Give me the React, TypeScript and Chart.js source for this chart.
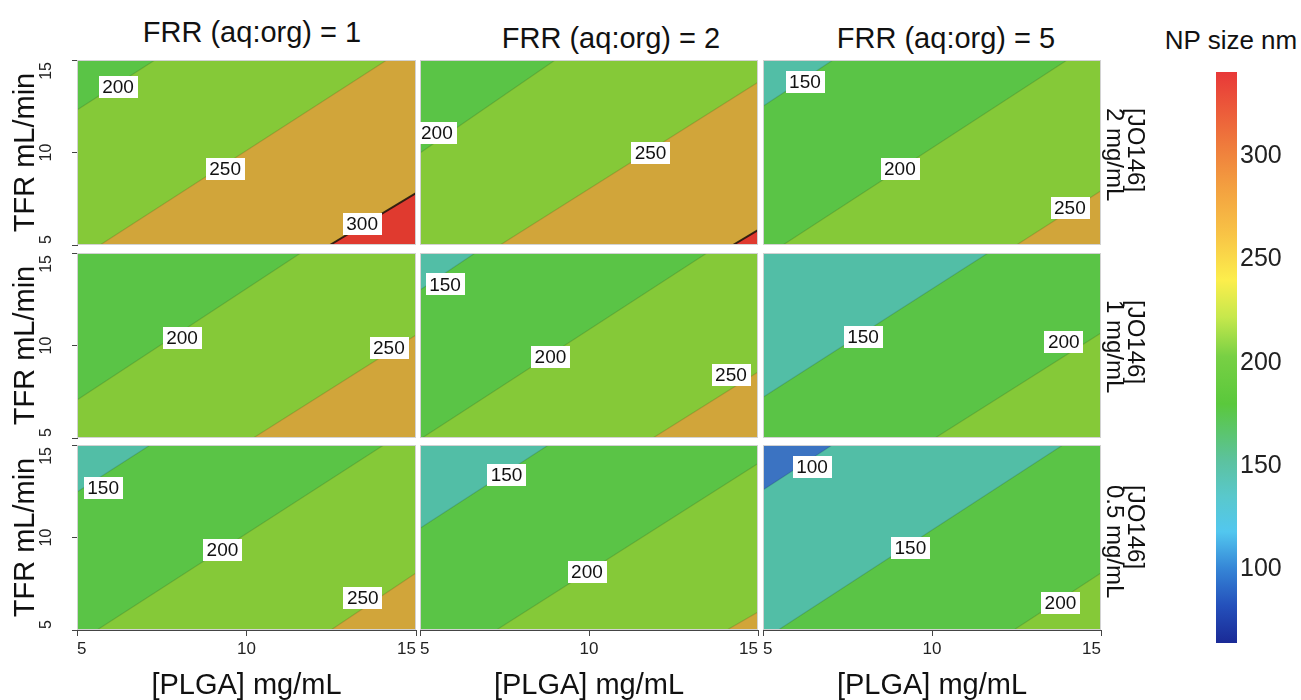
import React, { useEffect, useRef } from "react";
import { Chart, registerables } from "chart.js";

Chart.register(...registerables);

const FONT = "'Liberation Sans', Arial, Helvetica, sans-serif";

// ---------- labels ----------
const frrTitles = ["FRR (aq:org) = 1", "FRR (aq:org) = 2", "FRR (aq:org) = 5"];
const jo146Rows = ["2 mg/mL", "1 mg/mL", "0.5 mg/mL"];
const xTitle = "[PLGA] mg/mL";
const yTitle = "TFR mL/min";
const colorbarTitle = "NP size nm";

// ---------- axes ----------
const plgaRange = [5, 15];
const tfrRange = [5, 15];
const plgaTicks = [5, 10, 15];
const tfrTicks = [5, 10, 15];

// ---------- contour band colours (by lower bound of band) ----------
const bandLowerBounds = [50, 100, 150, 200, 250, 300];
const bandColors = ["#3b73c2", "#52bea6", "#5ac446", "#85c938", "#d1a53a", "#e03a2f"];

// ---------- colour bar ----------
const colorbarRange = [64, 341];
const colorbarTicks = [100, 150, 200, 250, 300];
const colorbarStops = [64, 82, 100, 118, 135, 152, 180, 203, 222, 240, 262, 285, 305, 341];
const colorbarColors = [
  "#1a2a96", "#2450bb", "#3585d6", "#52c7ef", "#59c8cc", "#5cc2a0", "#5ac83c",
  "#78d044", "#c6e84c", "#fcee4c", "#f8c446", "#f3a040", "#ef7c3c", "#e83838",
];

// ---------- panel data: contour lines (from -> to, data coords) and labels ----------
// Row 1: [JO146] 2 mg/mL
const p11Levels = [200, 250, 300];
const p11From = [[5, 12.3], [5.68, 5], [12.46, 5]];
const p11To = [[7.3, 15], [14.14, 15], [15, 7.8]];
const p11LabelValues = [200, 250, 300];
const p11LabelPos = [[6.21, 13.54], [9.37, 9.11], [13.41, 6.14]];

const p12Levels = [200, 250, 300];
const p12From = [[5, 9.97], [7.37, 5], [14.26, 5]];
const p12To = [[9.0, 15], [15, 13.8], [15, 5.8]];
const p12LabelValues = [200, 250];
const p12LabelPos = [[5.5, 11.05], [11.82, 9.97]];

const p13Levels = [150, 200, 250];
const p13From = [[5, 12.5], [5.59, 5], [12.5, 5]];
const p13To = [[7.07, 15], [14.0, 15], [15, 7.93]];
const p13LabelValues = [150, 200, 250];
const p13LabelPos = [[6.24, 13.8], [9.05, 9.13], [14.08, 7.0]];

// Row 2: [JO146] 1 mg/mL
const p21Levels = [200, 250];
const p21From = [[5, 7.05], [10.2, 5]];
const p21To = [[11.6, 15], [15, 10.57]];
const p21LabelValues = [200, 250];
const p21LabelPos = [[8.1, 10.4], [14.2, 9.86]];

const p22Levels = [150, 200, 250];
const p22From = [[5, 13.0], [5.06, 5], [11.89, 5]];
const p22To = [[6.63, 15], [13.49, 15], [15, 8.57]];
const p22LabelValues = [150, 200, 250];
const p22LabelPos = [[5.74, 13.3], [8.86, 9.38], [14.2, 8.4]];

const p23Levels = [150, 200];
const p23From = [[5, 7.2], [10.09, 5]];
const p23To = [[11.66, 15], [15, 10.68]];
const p23LabelValues = [150, 200];
const p23LabelPos = [[7.96, 10.46], [13.9, 10.2]];

// Row 3: [JO146] 0.5 mg/mL
const p31Levels = [150, 200, 250];
const p31From = [[5, 12.46], [5.59, 5], [12.49, 5]];
const p31To = [[7.16, 15], [14.05, 15], [15, 8.08]];
const p31LabelValues = [150, 200, 250];
const p31LabelPos = [[5.77, 12.68], [9.29, 9.32], [13.43, 6.73]];

const p32Levels = [150, 200, 250];
const p32From = [[5, 10.5], [7.26, 5], [14.08, 5]];
const p32To = [[8.8, 15], [15, 14.0], [15, 5.97]];
const p32LabelValues = [150, 200];
const p32LabelPos = [[7.56, 13.38], [9.94, 8.14]];

const p33Levels = [100, 150, 200];
const p33From = [[5, 12.57], [5.45, 5], [12.42, 5]];
const p33To = [[7.05, 15], [13.87, 15], [15, 8.08]];
const p33LabelValues = [100, 150, 200];
const p33LabelPos = [[6.45, 13.8], [9.36, 9.43], [13.8, 6.46]];

type PanelData = {
  levels: number[];
  from: number[][];
  to: number[][];
  labelValues: number[];
  labelPos: number[][];
};

const panels: PanelData[][] = [
  [
    { levels: p11Levels, from: p11From, to: p11To, labelValues: p11LabelValues, labelPos: p11LabelPos },
    { levels: p12Levels, from: p12From, to: p12To, labelValues: p12LabelValues, labelPos: p12LabelPos },
    { levels: p13Levels, from: p13From, to: p13To, labelValues: p13LabelValues, labelPos: p13LabelPos },
  ],
  [
    { levels: p21Levels, from: p21From, to: p21To, labelValues: p21LabelValues, labelPos: p21LabelPos },
    { levels: p22Levels, from: p22From, to: p22To, labelValues: p22LabelValues, labelPos: p22LabelPos },
    { levels: p23Levels, from: p23From, to: p23To, labelValues: p23LabelValues, labelPos: p23LabelPos },
  ],
  [
    { levels: p31Levels, from: p31From, to: p31To, labelValues: p31LabelValues, labelPos: p31LabelPos },
    { levels: p32Levels, from: p32From, to: p32To, labelValues: p32LabelValues, labelPos: p32LabelPos },
    { levels: p33Levels, from: p33From, to: p33To, labelValues: p33LabelValues, labelPos: p33LabelPos },
  ],
];

// ---------- layout (pixels) ----------
const colLeft = [77, 420, 763];
const colRight = [416, 758, 1101];
const rowTop = [60, 253, 445];
const rowBottom = [245, 438, 630];

function bandColor(lower: number) {
  const i = bandLowerBounds.indexOf(lower);
  return i >= 0 ? bandColors[i] : "#888";
}

function buildDatasets(p: PanelData) {
  const [x0, x1] = plgaRange;
  const [y0, y1] = tfrRange;
  const layers: any[] = [];
  // base band (top-left region, below the first contour level)
  layers.push({
    data: [
      { x: x0, y: y0 }, { x: x0, y: y1 }, { x: x1, y: y1 }, { x: x1, y: y0 }, { x: x0, y: y0 },
    ],
    backgroundColor: bandColor(p.levels[0] - 50),
    borderColor: "rgba(0,0,0,0)",
    borderWidth: 0,
    fill: "shape",
    pointRadius: 0,
  });
  p.levels.forEach((lv, i) => {
    const f = p.from[i];
    const t = p.to[i];
    const pts = [{ x: f[0], y: f[1] }, { x: t[0], y: t[1] }];
    if (t[1] >= y1) pts.push({ x: x1, y: y1 });
    pts.push({ x: x1, y: y0 });
    if (f[0] <= x0 && f[1] > y0) pts.push({ x: x0, y: y0 });
    pts.push({ x: f[0], y: f[1] });
    layers.push({
      data: pts,
      backgroundColor: bandColor(lv),
      borderColor: "rgba(0,0,0,0)",
      borderWidth: 0,
      fill: "shape",
      pointRadius: 0,
    });
  });
  p.levels.forEach((lv, i) => {
    const f = p.from[i];
    const t = p.to[i];
    layers.push({
      data: [{ x: f[0], y: f[1] }, { x: t[0], y: t[1] }],
      borderColor: lv >= 300 ? "rgba(25,15,10,0.85)" : "rgba(0,0,0,0.13)",
      borderWidth: lv >= 300 ? 2 : 1.2,
      fill: false,
      pointRadius: 0,
    });
  });
  // Chart.js draws dataset 0 on top, so reverse
  return layers.reverse();
}

function PanelChart({ r, c }: { r: number; c: number }) {
  const ref = useRef<HTMLCanvasElement>(null);
  const p = panels[r][c];
  const cl = c === 0 ? 0 : colLeft[c] - 30;
  const cr = colRight[c] + 30;
  const ct = rowTop[r] - 10;
  const cb = r === 2 ? 700 : rowBottom[r] + 10;
  const w = cr - cl;
  const h = cb - ct;
  const showY = c === 0;
  const showX = r === 2;

  useEffect(() => {
    const canvas = ref.current!;
    const labelPlugin = {
      id: "contourLabels",
      afterDatasetsDraw(chart: any) {
        const ctx = chart.ctx;
        const xs = chart.scales.x;
        const ys = chart.scales.y;
        const a = chart.chartArea;
        ctx.save();
        ctx.strokeStyle = "#d2d2d2";
        ctx.lineWidth = 1;
        ctx.strokeRect(a.left + 0.5, a.top + 0.5, a.right - a.left - 1, a.bottom - a.top - 1);
        ctx.font = `19px ${FONT}`;
        ctx.textAlign = "center";
        ctx.textBaseline = "middle";
        p.labelValues.forEach((v, i) => {
          const px = xs.getPixelForValue(p.labelPos[i][0]);
          const py = ys.getPixelForValue(p.labelPos[i][1]);
          const txt = String(v);
          const tw = ctx.measureText(txt).width;
          const bw = tw + 7;
          const bh = 22;
          ctx.fillStyle = "#ffffff";
          ctx.fillRect(Math.round(px - bw / 2), Math.round(py - bh / 2), Math.round(bw), bh);
          ctx.fillStyle = "#111111";
          ctx.fillText(txt, px, py + 1);
        });
        ctx.restore();
      },
    };
    const yTickPlugin = {
      id: "yTickLabels",
      afterDraw(chart: any) {
        if (!showY) return;
        const ctx = chart.ctx;
        const ys = chart.scales.y;
        const a = chart.chartArea;
        ctx.save();
        ctx.font = `16px ${FONT}`;
        ctx.fillStyle = "#222";
        ctx.textAlign = "center";
        ctx.textBaseline = "middle";
        tfrTicks.forEach((v) => {
          const txt = String(v);
          const half = ctx.measureText(txt).width / 2;
          let py = ys.getPixelForValue(v);
          py = Math.max(a.top + half + 2, Math.min(a.bottom - half - 1, py));
          ctx.save();
          ctx.translate(ys.right - 30, py);
          ctx.rotate(-Math.PI / 2);
          ctx.fillText(txt, 0, 0);
          ctx.restore();
        });
        ctx.restore();
      },
    };

    const chart = new Chart(canvas, {
      type: "line",
      data: { datasets: buildDatasets(p) },
      options: {
        responsive: false,
        maintainAspectRatio: false,
        animation: false,
        events: [],
        layout: {
          padding: { left: showY ? 0 : 30, right: 30, top: 10, bottom: showX ? 0 : 10 },
        },
        elements: { line: { tension: 0 }, point: { radius: 0 } },
        plugins: { legend: { display: false }, tooltip: { enabled: false } },
        scales: {
          x: showX
            ? {
                type: "linear",
                min: plgaRange[0],
                max: plgaRange[1],
                position: "bottom",
                z: 1,
                afterBuildTicks: (s: any) => {
                  s.ticks = plgaTicks.map((v) => ({ value: v }));
                },
                afterFit: (s: any) => {
                  s.height = 70;
                  s.paddingLeft = 0;
                  s.paddingRight = 0;
                },
                ticks: {
                  font: { family: FONT, size: 17 },
                  color: "#222",
                  padding: 3,
                  align: "inner",
                  minRotation: 0,
                  maxRotation: 0,
                  autoSkip: false,
                },
                grid: { drawOnChartArea: false, drawTicks: true, tickLength: 6, color: "#444" },
                border: { display: true, color: "#444", width: 1 },
                title: {
                  display: true,
                  text: xTitle,
                  font: { family: FONT, size: 29, lineHeight: 1 },
                  color: "#111",
                  padding: { top: 0, bottom: 0 },
                },
              }
            : { type: "linear", min: plgaRange[0], max: plgaRange[1], display: false },
          y: showY
            ? {
                type: "linear",
                min: tfrRange[0],
                max: tfrRange[1],
                position: "left",
                z: 1,
                afterBuildTicks: (s: any) => {
                  s.ticks = tfrTicks.map((v) => ({ value: v }));
                },
                afterFit: (s: any) => {
                  s.width = 77;
                  s.paddingTop = 0;
                  s.paddingBottom = 0;
                },
                ticks: { display: false },
                grid: { drawOnChartArea: false, drawTicks: true, tickLength: 5, color: "#444" },
                border: { display: true, color: "#444", width: 1 },
                title: {
                  display: true,
                  text: yTitle,
                  font: { family: FONT, size: 29, lineHeight: 1 },
                  color: "#111",
                  padding: { top: 11, bottom: 0 },
                },
              }
            : { type: "linear", min: tfrRange[0], max: tfrRange[1], display: false },
        },
      } as any,
      plugins: [labelPlugin, yTickPlugin],
    });
    return () => chart.destroy();
  }, []);

  return (
    <canvas
      ref={ref}
      width={w}
      height={h}
      style={{ position: "absolute", left: cl, top: ct, width: w, height: h }}
    />
  );
}

function ColorBar() {
  const ref = useRef<HTMLCanvasElement>(null);
  const left = 1196;
  const top = 62;
  const w = 105;
  const h = 591;
  useEffect(() => {
    const gradPlugin = {
      id: "gradientBar",
      beforeDatasetsDraw(chart: any) {
        const ctx = chart.ctx;
        const ys = chart.scales.y;
        const a = chart.chartArea;
        const g = ctx.createLinearGradient(0, a.bottom, 0, a.top);
        colorbarStops.forEach((v, i) => {
          const t = (a.bottom - ys.getPixelForValue(v)) / (a.bottom - a.top);
          g.addColorStop(Math.max(0, Math.min(1, t)), colorbarColors[i]);
        });
        ctx.save();
        ctx.fillStyle = g;
        ctx.fillRect(a.left, a.top, a.right - a.left, a.bottom - a.top);
        ctx.restore();
      },
    };
    const chart = new Chart(ref.current!, {
      type: "line",
      data: { datasets: [] },
      options: {
        responsive: false,
        maintainAspectRatio: false,
        animation: false,
        events: [],
        layout: { padding: { left: 20, right: 0, top: 10, bottom: 10 } },
        plugins: { legend: { display: false }, tooltip: { enabled: false } },
        scales: {
          x: { type: "linear", min: 0, max: 1, display: false },
          y: {
            type: "linear",
            position: "right",
            min: colorbarRange[0],
            max: colorbarRange[1],
            afterBuildTicks: (s: any) => {
              s.ticks = colorbarTicks.map((v) => ({ value: v }));
            },
            afterFit: (s: any) => {
              s.width = 64;
              s.paddingTop = 0;
              s.paddingBottom = 0;
            },
            ticks: { font: { family: FONT, size: 25 }, color: "#222", padding: 3 },
            grid: { display: false, drawTicks: false },
            border: { display: false },
          },
        },
      } as any,
      plugins: [gradPlugin],
    });
    return () => chart.destroy();
  }, []);
  return (
    <canvas
      ref={ref}
      width={w}
      height={h}
      style={{ position: "absolute", left, top, width: w, height: h }}
    />
  );
}

const titleCenters = [252, 611, 946];
const titleTops = [32, 38, 38];
const stripTops = [108, 300, 485];

export default function App() {
  return (
    <div
      style={{
        position: "absolute",
        left: 0,
        top: 0,
        width: 1301,
        height: 700,
        background: "#ffffff",
        overflow: "hidden",
        fontFamily: FONT,
        color: "#111",
      }}
    >
      {frrTitles.map((t, i) => (
        <div
          key={"t" + i}
          style={{
            position: "absolute",
            left: titleCenters[i],
            top: titleTops[i] - 15,
            transform: "translateX(-50%)",
            fontSize: 29,
            lineHeight: "30px",
            whiteSpace: "nowrap",
          }}
        >
          {t}
        </div>
      ))}
      {[0, 1, 2].map((r) =>
        [0, 1, 2].map((c) => <PanelChart key={`p${r}${c}`} r={r} c={c} />)
      )}
      {jo146Rows.map((t, i) => (
        <div
          key={"s" + i}
          style={{
            position: "absolute",
            left: 1105,
            top: stripTops[i],
            writingMode: "vertical-rl",
            fontSize: 24,
            lineHeight: "21px",
            whiteSpace: "pre",
          }}
        >
          {"[JO146]\n" + t}
        </div>
      ))}
      <div
        style={{
          position: "absolute",
          left: 1231,
          top: 26,
          transform: "translateX(-50%)",
          fontSize: 26,
          lineHeight: "28px",
          whiteSpace: "nowrap",
        }}
      >
        {colorbarTitle}
      </div>
      <ColorBar />
    </div>
  );
}
